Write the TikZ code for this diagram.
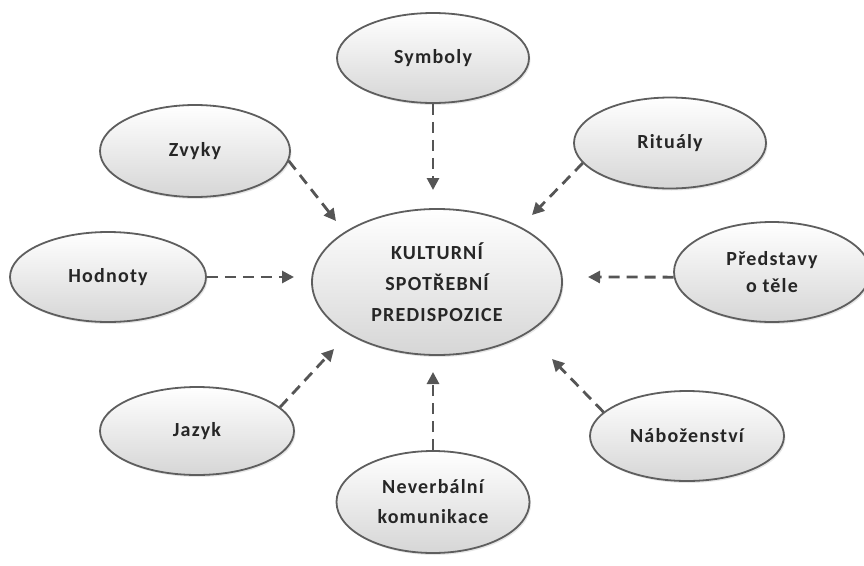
\documentclass[tikz,border=0pt]{standalone}
\usepackage{fontspec}
\setmainfont{Carlito}
\newfontfamily\lblfont[LetterSpace=6]{Carlito}
\usetikzlibrary{shapes.geometric,arrows.meta,shadows}
\definecolor{edgegray}{HTML}{5E5E5E}
\definecolor{arrgray}{HTML}{555555}
\definecolor{fillmid}{HTML}{F2F2F2}
\definecolor{fillbot}{HTML}{D6D6D6}
\tikzset{
  bubble/.style={ellipse, draw=edgegray, line width=1.8pt, top color=white, middle color=fillmid, bottom color=fillbot,
    drop shadow={shadow xshift=1.5pt, shadow yshift=-2pt, opacity=0.2},
    inner sep=0pt, font=\lblfont\bfseries\fontsize{20}{28}\selectfont, align=center, text=black!85},
  core/.style={bubble, font=\lblfont\bfseries\fontsize{20}{31}\selectfont},
  link/.style={draw=arrgray, line width=2.8pt, dash pattern=on 11pt off 7pt,
    -{Triangle[length=12pt,width=12pt]}}
}
\begin{document}
\begin{tikzpicture}[x=1pt,y=-1pt]
\useasboundingbox (0,0) rectangle (864,565);
\node[bubble, minimum width=192pt, minimum height=90pt] (sym) at (433,58) {Symboly};
\node[bubble, minimum width=190pt, minimum height=92pt] (zvy) at (195,151) {Zvyky};
\node[bubble, minimum width=192pt, minimum height=91pt] (rit) at (670,143) {Rituály};
\node[bubble, minimum width=196pt, minimum height=90pt] (hod) at (108,277) {Hodnoty};
\node[core, minimum width=250pt, minimum height=146pt] (kul) at (437,282) {KULTURNÍ\\SPOTŘEBNÍ\\PREDISPOZICE};
\node[bubble, minimum width=196pt, minimum height=100pt, font=\lblfont\bfseries\fontsize{20}{27}\selectfont] (pre) at (772,272) {Představy\\o těle};
\node[bubble, minimum width=194pt, minimum height=88pt] (jaz) at (197,431) {Jazyk};
\node[bubble, minimum width=193pt, minimum height=102pt, font=\lblfont\bfseries\fontsize{20}{30}\selectfont] (nev) at (433,502) {Neverbální\\komunikace};
\node[bubble, minimum width=194pt, minimum height=90pt] (nab) at (687,436) {Náboženství};

\coordinate (symE) at (433,190);
\coordinate (zvyE) at (336,221);
\coordinate (ritE) at (532,215);
\coordinate (hodE) at (294,277);
\coordinate (preE) at (588,277);
\coordinate (jazE) at (334,349);
\coordinate (nevE) at (433,372);
\coordinate (nabE) at (552,359);

\draw[link] (sym.south) -- (symE);
\draw[link] (zvy.-6) -- (zvyE);
\draw[link] (rit.193) -- (ritE);
\draw[link] (hod.east) -- (hodE);
\draw[link] (pre.183) -- (preE);
\draw[link] (jaz.16) -- (jazE);
\draw[link] (nev.north) -- (nevE);
\draw[link] (nab.164) -- (nabE);
\end{tikzpicture}
\end{document}
